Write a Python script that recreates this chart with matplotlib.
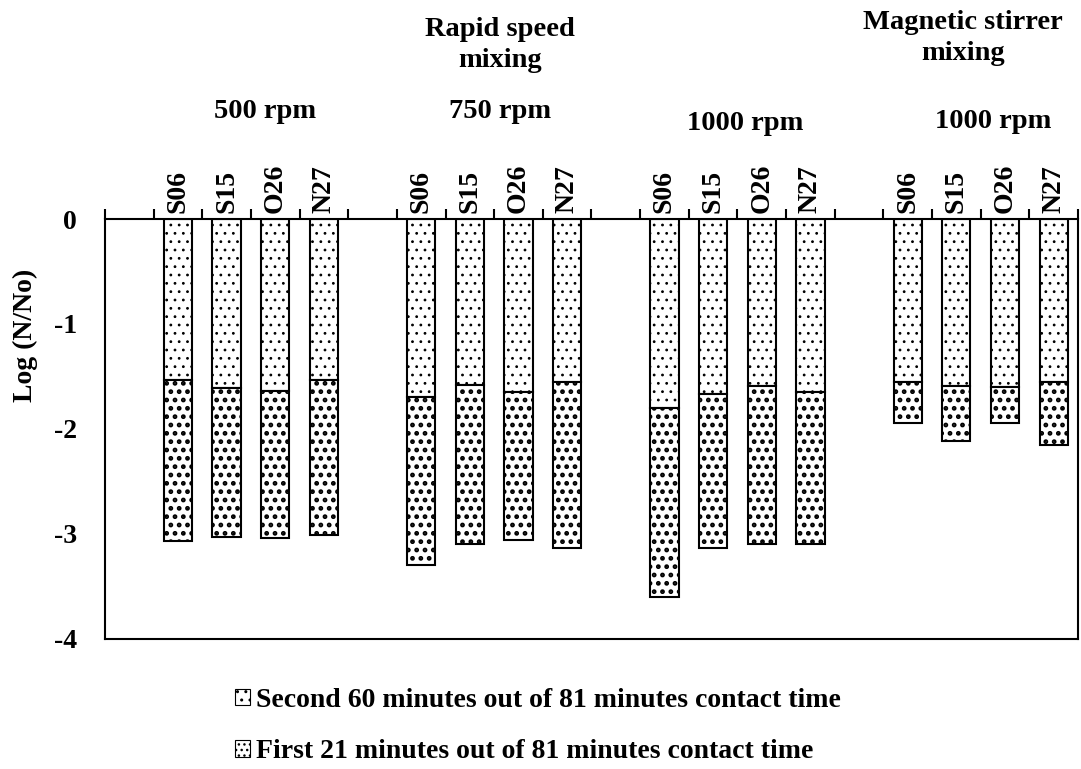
import numpy as np
import matplotlib as mpl
import matplotlib.pyplot as plt
from matplotlib.patches import Patch

plt.rcParams['font.family'] = ['Liberation Serif', 'DejaVu Serif']
plt.rcParams['font.weight'] = 'bold'

# Samples in each mixing condition
samples = ['S06', 'S15', 'O26', 'N27']
conditions = ['500 rpm', '750 rpm', '1000 rpm', '1000 rpm']

# Log reduction after the first 21 minutes (top part of each bar)
first_21 = [-1.53, -1.61, -1.64, -1.53,
            -1.70, -1.58, -1.65, -1.55,
            -1.80, -1.67, -1.59, -1.65,
            -1.55, -1.59, -1.60, -1.55]
# Total log reduction after 81 minutes (bottom of each bar)
total_81 = [-3.07, -3.03, -3.04, -3.01,
            -3.30, -3.10, -3.06, -3.13,
            -3.60, -3.13, -3.10, -3.10,
            -1.94, -2.11, -1.94, -2.15]

first_21 = np.array(first_21)
second_60 = np.array(total_81) - first_21

# slot positions: one empty slot before each group of four bars
slots = np.array([g * 5 + 1 + i for g in range(4) for i in range(4)])
centers = slots + 0.5
width = 0.58

fig = plt.figure(figsize=(10.81, 7.69), dpi=100)
ax = fig.add_axes([0.0971, 0.1691, 0.9001, 0.5461])

with mpl.rc_context({'hatch.linewidth': 0.8}):
    ax.bar(centers, first_21, width, color='white', edgecolor='black',
           hatch='..', linewidth=1.5)
with mpl.rc_context({'hatch.linewidth': 2.2}):
    ax.bar(centers, second_60, width, bottom=first_21, color='white',
           edgecolor='black', hatch='..', linewidth=1.5)

ax.set_xlim(0, 20)
ax.set_ylim(-4, 0)

# x axis drawn along y = 0 at the top, labels above it
ax.xaxis.tick_top()
ax.set_xticks(np.arange(0, 21))
ax.set_xticklabels([])
ax.set_xticks(centers, minor=True)
ax.set_xticklabels(samples * 4, minor=True, rotation=90, fontsize=20,
                   fontweight='bold')
ax.tick_params(axis='x', which='major', direction='out', length=7, width=1.5)
ax.tick_params(axis='x', which='minor', length=0, pad=4)

ax.set_yticks([0, -1, -2, -3, -4])
ax.set_yticklabels(['0', '-1', '-2', '-3', '-4'], fontsize=20, fontweight='bold')
ax.tick_params(axis='y', length=0, pad=20)

fig.text(25 / 1081, 1 - 335 / 769, 'Log (N/No)', rotation=90, ha='center',
         va='center', fontsize=20, fontweight='bold')

for s in ax.spines.values():
    s.set_linewidth(1.5)

# group headings
group_x = [265, 500, 745, 993]
group_y = [112, 112, 124, 122]
for name, gx, gy in zip(conditions, group_x, group_y):
    fig.text(gx / 1081, 1 - gy / 769, name, ha='center', va='center',
             fontsize=20.5, fontweight='bold')
fig.text(500 / 1081, 1 - 45 / 769, 'Rapid speed\nmixing', ha='center',
         va='center', fontsize=20.5, fontweight='bold', linespacing=1.3)
fig.text(963 / 1081, 1 - 38 / 769, 'Magnetic stirrer\nmixing', ha='center',
         va='center', fontsize=20.5, fontweight='bold', linespacing=1.3)

with mpl.rc_context({'hatch.linewidth': 1.8}):
    dense_handle = Patch(facecolor='white', edgecolor='black', hatch='..',
                         linewidth=0.8)
with mpl.rc_context({'hatch.linewidth': 0.6}):
    light_handle = Patch(facecolor='white', edgecolor='black', hatch='...',
                         linewidth=0.8)
labels = ['Second 60 minutes out of 81 minutes contact time',
          'First 21 minutes out of 81 minutes contact time']
fig.legend([dense_handle, light_handle], labels, loc='center',
           bbox_to_anchor=(538 / 1081, 1 - 726 / 769),
           frameon=False, prop={'weight': 'bold', 'size': 20},
           handlelength=0.55, handleheight=0.55, handletextpad=0.2,
           labelspacing=0.95)

fig.savefig('out.png', dpi=100)
